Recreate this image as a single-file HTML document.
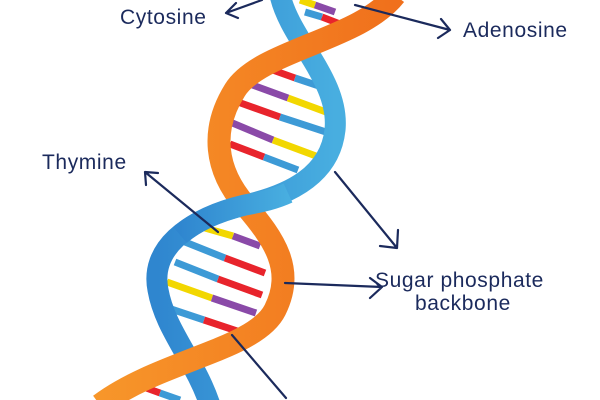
<!DOCTYPE html>
<html><head><style>
html,body{margin:0;padding:0;background:#fff;width:600px;height:400px;overflow:hidden}
text{font-family:"Liberation Sans",sans-serif;fill:#1b2a5c;font-size:21px;letter-spacing:0.6px}
</style></head><body>
<svg width="600" height="400" viewBox="0 0 600 400" xmlns="http://www.w3.org/2000/svg">
<defs>
<linearGradient id="og" x1="0" x2="1"><stop offset="0" stop-color="#f7962a"/><stop offset="1" stop-color="#f0701c"/></linearGradient>
<linearGradient id="bg" x1="0" x2="1"><stop offset="0" stop-color="#2f86cf"/><stop offset="1" stop-color="#48aee0"/></linearGradient>
</defs>
<g stroke-width="7" stroke-linecap="butt">
<line x1="300" y1="0" x2="315" y2="5" stroke="#f2d700"/><line x1="315" y1="5" x2="335" y2="12" stroke="#8a4aa8"/>
<line x1="305" y1="12" x2="322" y2="17" stroke="#3d9ad6"/><line x1="322" y1="17" x2="340" y2="24" stroke="#e8242c"/>
<line x1="267" y1="68" x2="295" y2="78" stroke="#e8242c"/><line x1="295" y1="78" x2="322" y2="87" stroke="#3d9ad6"/>
<line x1="247" y1="83" x2="288" y2="98" stroke="#8a4aa8"/><line x1="288" y1="98" x2="326" y2="112" stroke="#f2d700"/>
<line x1="235" y1="101" x2="280" y2="117" stroke="#e8242c"/><line x1="280" y1="117" x2="326" y2="132" stroke="#3d9ad6"/>
<line x1="230" y1="122" x2="273" y2="140" stroke="#8a4aa8"/><line x1="273" y1="140" x2="316" y2="156" stroke="#f2d700"/>
<line x1="230" y1="144" x2="264" y2="157" stroke="#e8242c"/><line x1="264" y1="157" x2="298" y2="170" stroke="#3d9ad6"/>
<line x1="205" y1="228" x2="233" y2="236" stroke="#f2d700"/><line x1="233" y1="236" x2="260" y2="246" stroke="#8a4aa8"/>
<line x1="185" y1="242" x2="225" y2="258" stroke="#3d9ad6"/><line x1="225" y1="258" x2="265" y2="273" stroke="#e8242c"/>
<line x1="175" y1="262" x2="218" y2="279" stroke="#3d9ad6"/><line x1="218" y1="279" x2="262" y2="295" stroke="#e8242c"/>
<line x1="167" y1="282" x2="212" y2="298" stroke="#f2d700"/><line x1="212" y1="298" x2="256" y2="313" stroke="#8a4aa8"/>
<line x1="168" y1="308" x2="204" y2="320" stroke="#3d9ad6"/><line x1="204" y1="320" x2="240" y2="332" stroke="#e8242c"/>
<line x1="138" y1="385" x2="160" y2="393" stroke="#e8242c"/><line x1="160" y1="393" x2="180" y2="400" stroke="#3d9ad6"/>
</g>
<path d="M280,-5 C290,40 340,80 335,130 C330,175 290,195 245,205 C185,220 150,250 158,290 C165,330 195,360 210,405" fill="none" stroke="url(#bg)" stroke-width="21"/>
<path d="M395,-5 C360,40 260,50 235,90 C210,130 215,170 245,205 C275,240 295,270 275,310 C255,350 160,360 100,405" fill="none" stroke="url(#og)" stroke-width="23"/>
<path d="M288,193 C275,199 262,202 245,205 C215,212 195,222 180,235" fill="none" stroke="url(#bg)" stroke-width="21"/>
<g fill="none" stroke="#1b2a5c" stroke-width="2.2" stroke-linecap="round">
<path d="M262,0 L226,13 M226,13 L236,3 M226,13 L238,18"/>
<path d="M355,5 L450,30 M450,30 L441,19 M450,30 L438,38"/>
<path d="M218,232 L145,172 M145,172 L146,185 M145,172 L158,173"/>
<path d="M335,172 L397,248 M397,248 L398,230 M397,248 L380,246"/>
<path d="M285,283 L382,287 M382,287 L370,278 M382,287 L370,298"/>
<path d="M232,335 L286,398"/>
</g>
<text x="120" y="24">Cytosine</text>
<text x="463" y="37">Adenosine</text>
<text x="42" y="169">Thymine</text>
<text x="375" y="287">Sugar phosphate</text>
<text x="415" y="310">backbone</text>
</svg>
</body></html>
